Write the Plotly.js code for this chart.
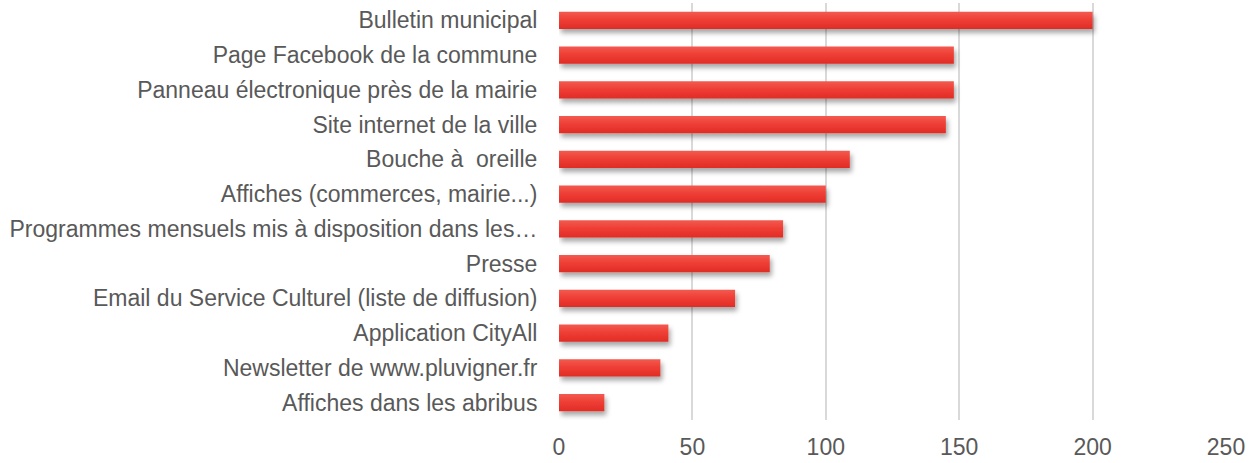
<!DOCTYPE html>
<html>
<head>
<meta charset="utf-8">
<script src="https://cdn.plot.ly/plotly-3.0.1.min.js"></script>
<style>html,body{margin:0;padding:0;background:#fff;}#chart{width:1259px;height:463px;}</style>
</head>
<body>
<div id="chart"></div>
<script>
var categories = [
  "Bulletin municipal",
  "Page Facebook de la commune",
  "Panneau électronique près de la mairie",
  "Site internet de la ville",
  "Bouche à\u00a0 oreille",
  "Affiches (commerces, mairie...)",
  "Programmes mensuels mis à disposition dans les…",
  "Presse",
  "Email du Service Culturel (liste de diffusion)",
  "Application CityAll",
  "Newsletter de www.pluvigner.fr",
  "Affiches dans les abribus"
];
var values = [200, 148, 148, 145, 109, 100, 84, 79, 66, 41, 38, 17];
var xTicks = [0, 50, 100, 150, 200, 250];

var trace = {
  type: 'bar',
  orientation: 'h',
  y: categories,
  x: values,
  width: 0.49,
  marker: {color: '#ea3a31', line: {width: 0}},
  hoverinfo: 'none'
};

var font = {family: 'Liberation Sans, Arial, sans-serif', size: 23, color: '#595959'};

var layout = {
  width: 1259,
  height: 463,
  margin: {l: 559, r: 33, t: 3, b: 43},
  paper_bgcolor: '#ffffff',
  plot_bgcolor: '#ffffff',
  showlegend: false,
  font: font,
  bargap: 0.51,
  xaxis: {
    range: [0, 250],
    tickvals: xTicks,
    ticktext: xTicks.map(String),
    showgrid: true,
    gridcolor: '#d9d9d9',
    gridwidth: 2,
    zeroline: false,
    showline: false,
    ticks: 'outside',
    ticklen: 6,
    tickcolor: 'rgba(0,0,0,0)',
    tickfont: font,
    fixedrange: true
  },
  yaxis: {
    autorange: 'reversed',
    showgrid: false,
    zeroline: false,
    showline: false,
    ticks: 'outside',
    ticklen: 16,
    tickcolor: 'rgba(0,0,0,0)',
    tickfont: font,
    fixedrange: true
  }
};

Plotly.newPlot('chart', [trace], layout, {displayModeBar: false, staticPlot: true}).then(function(gd){
  var svg = gd.querySelector('svg.main-svg');
  var ns = 'http://www.w3.org/2000/svg';
  var defs = svg.querySelector('defs') || svg.insertBefore(document.createElementNS(ns, 'defs'), svg.firstChild);
  var g = document.createElementNS(ns, 'linearGradient');
  g.setAttribute('id', 'barGrad');
  g.setAttribute('x1', '0'); g.setAttribute('y1', '0');
  g.setAttribute('x2', '0'); g.setAttribute('y2', '1');
  [['0%', '#f25a50'], ['45%', '#ef3f35'], ['100%', '#e02c25']].forEach(function(s){
    var st = document.createElementNS(ns, 'stop');
    st.setAttribute('offset', s[0]);
    st.setAttribute('stop-color', s[1]);
    g.appendChild(st);
  });
  defs.appendChild(g);
  var f = document.createElementNS(ns, 'filter');
  f.setAttribute('id', 'barShadow');
  f.setAttribute('x', '-10%'); f.setAttribute('y', '-40%');
  f.setAttribute('width', '130%'); f.setAttribute('height', '220%');
  var ds = document.createElementNS(ns, 'feDropShadow');
  ds.setAttribute('dx', '2'); ds.setAttribute('dy', '4');
  ds.setAttribute('stdDeviation', '2.5');
  ds.setAttribute('flood-color', '#000');
  ds.setAttribute('flood-opacity', '0.35');
  f.appendChild(ds);
  defs.appendChild(f);
  gd.querySelectorAll('.bars .point path').forEach(function(p){
    p.style.fill = 'url(#barGrad)';
    p.setAttribute('filter', 'url(#barShadow)');
  });
});
</script>
</body>
</html>
